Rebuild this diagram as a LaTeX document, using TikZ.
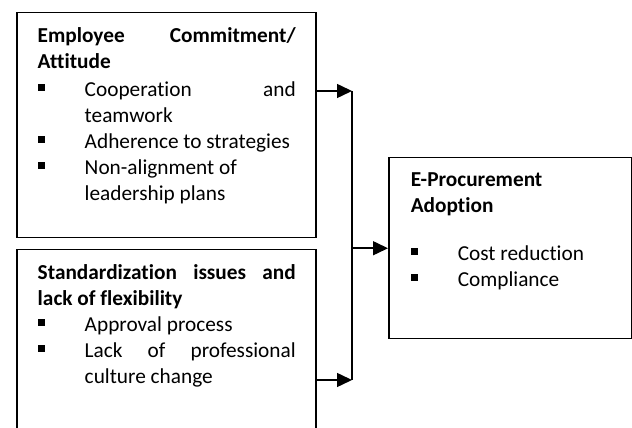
\documentclass[tikz,border=0pt]{standalone}
\usepackage{fontspec}
\setmainfont{Carlito}[Ligatures=CommonOff]
\usetikzlibrary{arrows.meta,positioning}
\hyphenpenalty=10000
\newcommand\sqitem[1]{\par\hangindent=47pt\hangafter=1\noindent\makebox[47pt][l]{\raisebox{6pt}{\rule{7pt}{7pt}}}#1\par}

\begin{document}
\begin{tikzpicture}[x=1pt,y=1pt,line width=1.5pt,
  box/.style={draw,rectangle,inner sep=0pt,anchor=north west},
  boxtext/.style={anchor=base west,inner sep=0pt,text width=#1,align=justify,
    font=\fontsize{21.3pt}{26pt}\selectfont},
  feed/.style={-{Triangle[length=15pt,width=14pt]}}]
  \useasboundingbox (0,0) rectangle (632,428);
  % the three boxes
  \node[box,minimum width=299pt,minimum height=225pt] (emp) at (16,416) {};
  \node[box,minimum width=299pt,minimum height=210pt] (std) at (16,179) {};
  \node[box,minimum width=243pt,minimum height=181pt] (epa) at (388,271) {};
  % their texts
  \node[boxtext=258pt] (empt) at ([shift={(21,-31)}]emp.north west) {\textbf{Employee Commitment/ Attitude}\par\vspace{2pt}
    \sqitem{Cooperation and teamwork}
    \sqitem{Adherence to strategies}
    \sqitem{Non-alignment of\newline leadership plans}};
  \node[boxtext=258pt] (stdt) at ([shift={(21,-31)}]std.north west) {\textbf{Standardization issues and lack of flexibility}
    \sqitem{Approval process}
    \sqitem{Lack of professional culture change}};
  \node[boxtext=200pt] (epat) at ([shift={(22,-30)}]epa.north west) {\textbf{E-Procurement\newline Adoption}\par\vspace{22pt}
    \sqitem{Cost reduction}
    \sqitem{Compliance}};
  % connectors
  \coordinate (in1) at ([yshift=-79pt]emp.north east);
  \coordinate (in2) at ([yshift=-131pt]std.north east);
  \coordinate (bar) at (352,0);
  \draw[feed] (in1) -- (in1 -| bar);
  \draw[feed] (in2) -- (in2 -| bar);
  \draw (in1 -| bar) -- (in2 -| bar);
  \draw[feed] (epa.west -| bar) -- (epa.west);
\end{tikzpicture}
\end{document}
